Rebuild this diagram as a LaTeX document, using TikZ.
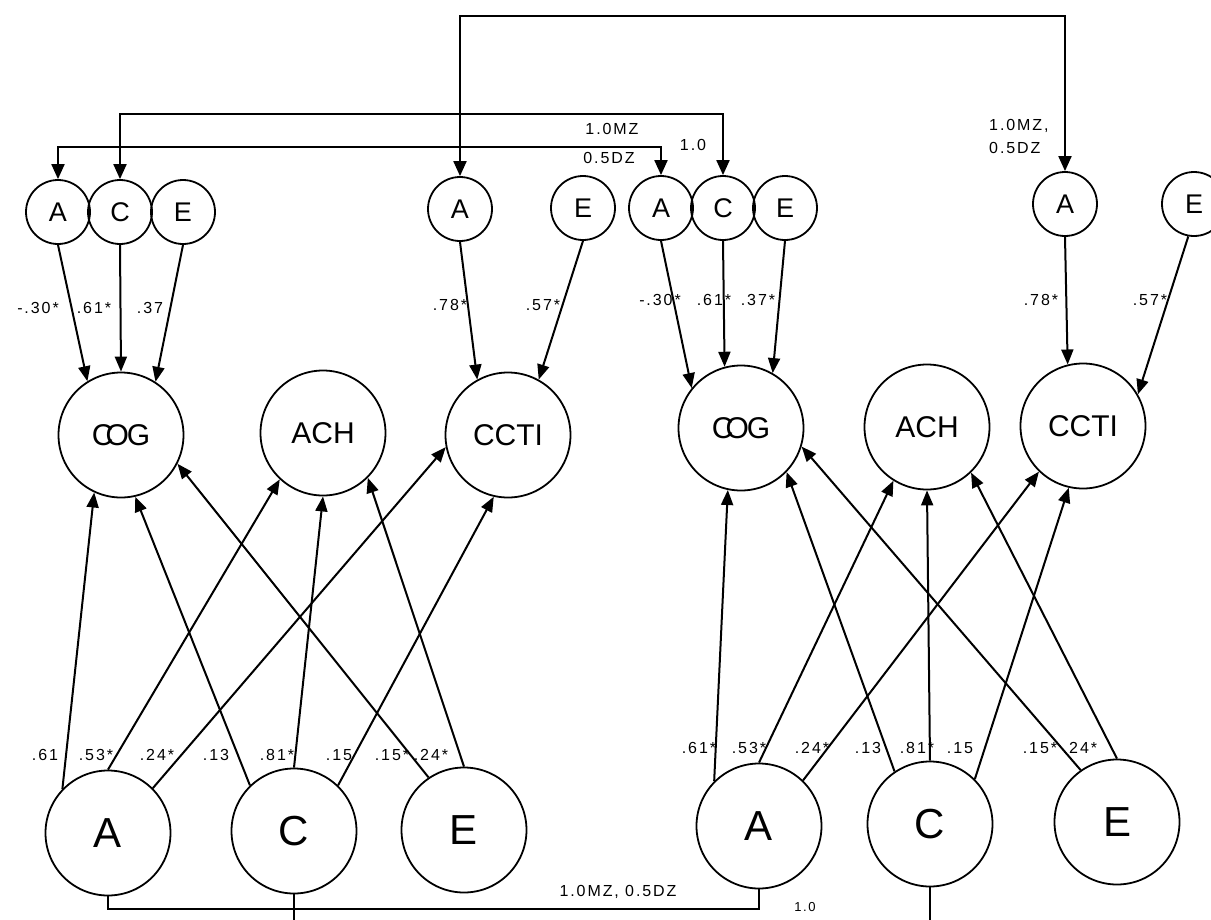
\documentclass[tikz,border=0pt]{standalone}
\usepackage{fontspec}
\setmainfont{Liberation Sans}
\newfontfamily\labfont[LetterSpace=12]{Liberation Sans}
\usetikzlibrary{arrows.meta}
\begin{document}
\begin{tikzpicture}[x=1pt,y=-1pt,
  bigc/.style={circle,draw,line width=1.8pt,minimum size=125pt,inner sep=0pt,font=\fontsize{30}{32}\selectfont},
  botc/.style={bigc,font=\fontsize{42}{44}\selectfont},
  smc/.style={circle,draw,line width=1.8pt,minimum size=64pt,inner sep=0pt,font=\fontsize{27}{29}\selectfont},
  arr/.style={line width=2pt,-{Triangle[length=15pt,width=12pt]}},
  bi/.style={line width=2pt,{Triangle[length=15pt,width=13pt]}-{Triangle[length=15pt,width=13pt]}},
  ln/.style={line width=2pt},
  lab/.style={font=\labfont\fontsize{16}{18}\selectfont,inner sep=0pt},
  slab/.style={font=\labfont\fontsize{13}{15}\selectfont,inner sep=0pt}
]
\useasboundingbox (0,0) rectangle (1211,919);
\clip (0,0) rectangle (1211,919);
% top small circles
\node[smc] (lsA) at (58,212) {A};
\node[smc] (lsC) at (120,212) {C};
\node[smc] (lsE) at (183,212) {E};
\node[smc] (msA) at (460,209) {A};
\node[smc] (msE) at (583,208) {E};
\node[smc] (rsA) at (661,208) {A};
\node[smc] (rsC) at (723,208) {C};
\node[smc] (rsE) at (785,208) {E};
\node[smc] (tsA) at (1065,204) {A};
\node[smc] (tsE) at (1194,204) {E};
% middle circles
\node[bigc] (lOOG) at (121,435) {C\kern-8pt O\kern-2pt G};
\node[bigc] (lACH) at (323,433) {ACH};
\node[bigc] (lCCTI) at (508,435) {CCTI};
\node[bigc] (rOOG) at (741,428) {C\kern-8pt O\kern-2pt G};
\node[bigc] (rACH) at (927,427) {ACH};
\node[bigc] (rCCTI) at (1083,426) {CCTI};
% bottom circles
\node[botc] (lbA) at (108,833) {A};
\node[botc] (lbC) at (294,831) {C};
\node[botc] (lbE) at (464,830) {E};
\node[botc] (rbA) at (759,826) {A};
\node[botc] (rbC) at (930,824) {C};
\node[botc] (rbE) at (1117,822) {E};
% top connectors
\coordinate (y1) at (0,16);
\coordinate (y2) at (0,114);
\coordinate (y3) at (0,147);
\draw[bi] (msA.north) -- (msA.north |- y1) -| (tsA.north);
\draw[bi] (lsC.north) -- (lsC.north |- y2) -| (rsC.north);
\draw[bi] (lsA.north) -- (lsA.north |- y3) -| (rsA.north);
\node[lab] (t1) at (612,129) {1.0MZ};
\node[lab] (t2) at (609,158) {0.5DZ};
\node[lab] (t3) at (693,145) {1.0};
\node[lab,anchor=west] (t4) at (989,126) {1.0MZ,};
\node[lab,anchor=west] (t5) at (989,148) {0.5DZ};
% bottom connectors
\coordinate (yb) at (0,909);
\coordinate (ybot) at (0,935);
\draw[ln] (lbA.south) -- (lbA.south |- yb) -| (rbA.south);
\draw[ln] (lbC.south) -- (lbC.south |- ybot);
\draw[ln] (rbC.south) -- (rbC.south |- ybot);
\node[lab] (b1) at (618,892) {1.0MZ, 0.5DZ};
\node[slab] (b2) at (805,907) {1.0};
% small to middle, left
\draw[arr] (lsA.270) -- (lOOG.122);
\draw[arr] (lsC.270) -- (lOOG.90);
\draw[arr] (lsE.270) -- (lOOG.57);
\draw[arr] (msA.270) -- (lCCTI.119);
\draw[arr] (msE.270) -- (lCCTI.61);
% small to middle, right
\draw[arr] (rsA.270) -- (rOOG.141);
\draw[arr] (rsC.270) -- (rOOG.105);
\draw[arr] (rsE.270) -- (rOOG.60);
\draw[arr] (tsA.270) -- (rCCTI.104);
\draw[arr] (tsE.260) -- (rCCTI.30);
% bottom to middle, left
\draw[arr] (lbA.136) -- (lOOG.245);
\draw[arr] (lbA.90) -- (lACH.227);
\draw[arr] (lbA.45) -- (lCCTI.191);
\draw[arr] (lbC.134) -- (lOOG.283);
\draw[arr] (lbC.90) -- (lACH.270);
\draw[arr] (lbC.46) -- (lCCTI.257);
\draw[arr] (lbE.124) -- (lOOG.333);
\draw[arr] (lbE.90) -- (lACH.315);
% bottom to middle, right
\draw[arr] (rbA.135) -- (rOOG.258);
\draw[arr] (rbA.90) -- (rACH.238);
\draw[arr] (rbA.46) -- (rCCTI.226);
\draw[arr] (rbC.124) -- (rOOG.316);
\draw[arr] (rbC.90) -- (rACH.270);
\draw[arr] (rbC.45) -- (rCCTI.257);
\draw[arr] (rbE.125) -- (rOOG.343);
\draw[arr] (rbE.90) -- (rACH.314);
% loading labels, top
\node[lab] (u1) at (38,308) {-.30*};
\node[lab] (u2) at (94,308) {.61*};
\node[lab] (u3) at (150,308) {.37};
\node[lab] (u4) at (450,305) {.78*};
\node[lab] (u5) at (543,305) {.57*};
\node[lab] (u6) at (660,300) {-.30*};
\node[lab] (u7) at (714,300) {.61*};
\node[lab] (u8) at (758,300) {.37*};
\node[lab] (u9) at (1041,300) {.78*};
\node[lab] (u10) at (1150,300) {.57*};
% loading labels, bottom
\node[lab] (v1) at (45,755) {.61};
\node[lab] (v2) at (96,755) {.53*};
\node[lab] (v3) at (157,755) {.24*};
\node[lab] (v4) at (216,755) {.13};
\node[lab] (v5) at (277,755) {.81*};
\node[lab] (v6) at (339,755) {.15};
\node[lab] (v7) at (392,755) {.15*};
\node[lab] (v8) at (431,755) {.24*};
\node[lab] (w1) at (699,748) {.61*};
\node[lab] (w2) at (749,748) {.53*};
\node[lab] (w3) at (812,748) {.24*};
\node[lab] (w4) at (868,748) {.13};
\node[lab] (w5) at (917,748) {.81*};
\node[lab] (w6) at (960,748) {.15};
\node[lab] (w7) at (1040,748) {.15*};
\node[lab] (w8) at (1080,748) {.24*};
\end{tikzpicture}
\end{document}
